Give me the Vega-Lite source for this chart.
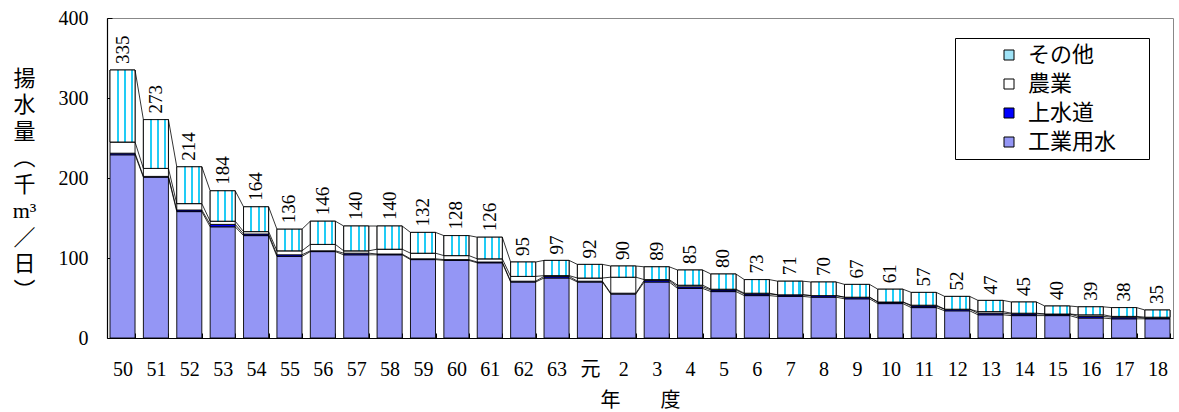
{
  "$schema": "https://vega.github.io/schema/vega-lite/v6.json",
  "width": 1066,
  "height": 320,
  "autosize": {"type": "none"},
  "padding": {"left": 107, "top": 18, "right": 6, "bottom": 74},
  "background": "white",
  "config": {
    "font": "Liberation Serif, Times New Roman, DejaVu Serif, serif, Noto Sans CJK JP",
    "view": {"stroke": "#888888", "strokeWidth": 1},
    "axis": {"grid": false, "domainColor": "black", "tickColor": "black", "labelColor": "black", "titleColor": "black", "titleFontWeight": "normal", "domainWidth": 1.2},
    "legend": {"strokeWidth": 1}
  },
  "data": {
    "values": [
      {"年度": "50", "工業用水": 229, "上水道": 2, "農業": 14, "その他": 90},
      {"年度": "51", "工業用水": 201, "上水道": 1, "農業": 10, "その他": 61},
      {"年度": "52", "工業用水": 158, "上水道": 2, "農業": 8, "その他": 46},
      {"年度": "53", "工業用水": 139, "上水道": 3, "農業": 4, "その他": 38},
      {"年度": "54", "工業用水": 128, "上水道": 2, "農業": 3, "その他": 31},
      {"年度": "55", "工業用水": 102, "上水道": 2, "農業": 5, "その他": 27},
      {"年度": "56", "工業用水": 108, "上水道": 1, "農業": 8, "その他": 29},
      {"年度": "57", "工業用水": 104, "上水道": 2, "農業": 3, "その他": 31},
      {"年度": "58", "工業用水": 104, "上水道": 1, "農業": 6, "その他": 29},
      {"年度": "59", "工業用水": 98, "上水道": 1, "農業": 7, "その他": 26},
      {"年度": "60", "工業用水": 97, "上水道": 1, "農業": 5, "その他": 25},
      {"年度": "61", "工業用水": 94, "上水道": 1, "農業": 4, "その他": 27},
      {"年度": "62", "工業用水": 70, "上水道": 1, "農業": 6, "その他": 18},
      {"年度": "63", "工業用水": 75, "上水道": 2, "農業": 1, "その他": 19},
      {"年度": "元", "工業用水": 70, "上水道": 1, "農業": 4, "その他": 17},
      {"年度": "2", "工業用水": 55, "上水道": 1, "農業": 20, "その他": 14},
      {"年度": "3", "工業用水": 70, "上水道": 2, "農業": 1, "その他": 16},
      {"年度": "4", "工業用水": 62, "上水道": 2, "農業": 2, "その他": 19},
      {"年度": "5", "工業用水": 58, "上水道": 2, "農業": 1, "その他": 19},
      {"年度": "6", "工業用水": 53, "上水道": 2, "農業": 1, "その他": 17},
      {"年度": "7", "工業用水": 52, "上水道": 2, "農業": 0, "その他": 17},
      {"年度": "8", "工業用水": 51, "上水道": 2, "農業": 0, "その他": 17},
      {"年度": "9", "工業用水": 49, "上水道": 2, "農業": 0, "その他": 16},
      {"年度": "10", "工業用水": 43, "上水道": 2, "農業": 0, "その他": 16},
      {"年度": "11", "工業用水": 38, "上水道": 2, "農業": 1, "その他": 16},
      {"年度": "12", "工業用水": 34, "上水道": 2, "農業": 0, "その他": 16},
      {"年度": "13", "工業用水": 29, "上水道": 2, "農業": 2, "その他": 14},
      {"年度": "14", "工業用水": 28, "上水道": 2, "農業": 1, "その他": 14},
      {"年度": "15", "工業用水": 28, "上水道": 2, "農業": 0, "その他": 10},
      {"年度": "16", "工業用水": 25, "上水道": 2, "農業": 2, "その他": 10},
      {"年度": "17", "工業用水": 24, "上水道": 2, "農業": 1, "その他": 11},
      {"年度": "18", "工業用水": 24, "上水道": 1, "農業": 1, "その他": 9}
    ]
  },
  "encoding": {
    "x": {
      "field": "年度",
      "type": "nominal",
      "sort": null,
      "scale": {
        "domain": ["50","51","52","53","54","55","56","57","58","59","60","61","62","63","元","2","3","4","5","6","7","8","9","10","11","12","13","14","15","16","17","18"],
        "paddingInner": 0.25,
        "paddingOuter": 0.09
      },
      "axis": {
        "title": "年　　度",
        "titleFontSize": 20,
        "titleY": 62,
        "titleBaseline": "middle",
        "labelAngle": 0,
        "labelFontSize": 20,
        "labelPadding": 26,
        "tickBand": "extent",
        "tickSize": -5,
        "domainColor": "black"
      }
    }
  },
  "layer": [
    {
      "transform": [
        {"fold": ["工業用水", "上水道", "農業", "その他"], "as": ["種別", "値"]},
        {"calculate": "indexof(['工業用水','上水道','農業','その他'], datum['種別'])", "as": "k"}
      ],
      "mark": {"type": "bar", "stroke": "black", "strokeWidth": 0.9},
      "encoding": {
        "y": {
          "field": "値",
          "type": "quantitative",
          "stack": "zero",
          "scale": {"domain": [0, 400]},
          "axis": {
            "title": ["揚", "水", "量", "︵", "千", "m³", "／", "日", "︶"],
            "titleAngle": 0,
            "titleX": -83,
            "titleY": 50,
            "titleBaseline": "top",
            "titleAlign": "center",
            "titleFontSize": 22,
            "titleLineHeight": 26.5,
            "values": [0, 100, 200, 300, 400],
            "labelFontSize": 20,
            "labelPadding": 24,
            "tickSize": -5
          }
        },
        "color": {
          "field": "種別",
          "type": "nominal",
          "scale": {
            "domain": ["その他", "農業", "上水道", "工業用水"],
            "range": ["#9fe3f7", "#ffffff", "#0000ff", "#9496f5"]
          },
          "legend": {
            "orient": "none",
            "legendX": 848,
            "legendY": 20,
            "title": null,
            "strokeColor": "black",
            "fillColor": "white",
            "padding": 6,
            "symbolType": "square",
            "symbolSize": 100,
            "symbolStrokeColor": "black",
            "symbolStrokeWidth": 1,
            "symbolOpacity": 1,
            "symbolOffset": 37,
            "labelFontSize": 22,
            "labelOffset": 8,
            "labelColor": "black",
            "rowPadding": 7,
            "labelExpr": "datum.label + '\u3000\u2009\u200b'"
          }
        },
        "order": {"field": "k", "type": "quantitative", "sort": "ascending"}
      }
    },
    {
      "transform": [
        {"calculate": "datum['工業用水'] + datum['上水道'] + datum['農業']", "as": "lo"},
        {"calculate": "datum['工業用水'] + datum['上水道'] + datum['農業'] + datum['その他']", "as": "hi"}
      ],
      "mark": {
        "type": "bar",
        "stroke": "black",
        "strokeWidth": 0.9,
        "fill": {
          "gradient": "linear", "x1": 0, "y1": 0, "x2": 1, "y2": 0,
          "stops": [
            {"offset": 0, "color": "#ffffff"},
            {"offset": 0.27, "color": "#ffffff"},
            {"offset": 0.27, "color": "#22ccf5"},
            {"offset": 0.35, "color": "#22ccf5"},
            {"offset": 0.35, "color": "#ffffff"},
            {"offset": 0.56, "color": "#ffffff"},
            {"offset": 0.56, "color": "#22ccf5"},
            {"offset": 0.64, "color": "#22ccf5"},
            {"offset": 0.64, "color": "#ffffff"},
            {"offset": 0.83, "color": "#ffffff"},
            {"offset": 0.83, "color": "#22ccf5"},
            {"offset": 0.91, "color": "#22ccf5"},
            {"offset": 0.91, "color": "#ffffff"},
            {"offset": 1, "color": "#ffffff"}
          ]
        }
      },
      "encoding": {
        "y": {"field": "lo", "type": "quantitative"},
        "y2": {"field": "hi"}
      }
    },
    {
      "transform": [
        {"calculate": "datum['工業用水']", "as": "c1"},
        {"calculate": "datum['工業用水'] + datum['上水道']", "as": "c2"},
        {"calculate": "datum['工業用水'] + datum['上水道'] + datum['農業']", "as": "c3"},
        {"calculate": "datum['工業用水'] + datum['上水道'] + datum['農業'] + datum['その他']", "as": "c4"},
        {"fold": ["c1", "c2", "c3", "c4"], "as": ["lvl", "v"]},
        {"window": [{"op": "lead", "field": "v", "as": "nv"}, {"op": "lead", "field": "年度", "as": "next"}], "groupby": ["lvl"]},
        {"filter": "datum.next != null"}
      ],
      "mark": {"type": "rule", "color": "black", "strokeWidth": 0.8},
      "encoding": {
        "x": {"field": "年度", "type": "nominal", "bandPosition": 1},
        "x2": {"field": "next", "bandPosition": 0},
        "y": {"field": "v", "type": "quantitative"},
        "y2": {"field": "nv"}
      }
    },
    {
      "transform": [
        {"calculate": "datum['工業用水'] + datum['上水道'] + datum['農業'] + datum['その他']", "as": "合計"}
      ],
      "mark": {"type": "text", "angle": 270, "align": "left", "baseline": "middle", "dx": 6, "fontSize": 19, "color": "black"},
      "encoding": {
        "y": {"field": "合計", "type": "quantitative"},
        "text": {"field": "合計", "type": "quantitative"}
      }
    }
  ]
}
